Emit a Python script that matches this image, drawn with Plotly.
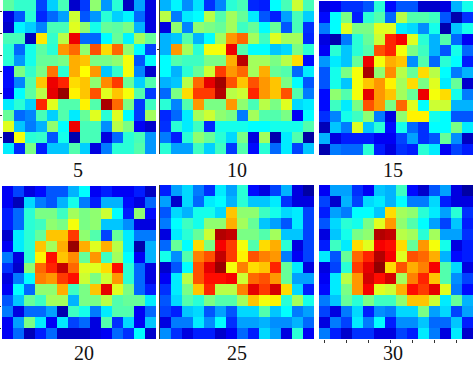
import plotly.graph_objects as go

labels = ["5", "10", "15", "20", "25", "30"]

p5 = [
 [47,43,43,18,33,45,6,17,52,27,42,5,28,8],
 [8,20,42,15,22,28,58,20,27,42,33,37,22,8],
 [6,37,33,25,45,45,60,52,40,48,47,50,30,8],
 [45,45,4,65,43,56,87,22,22,38,48,37,54,48],
 [42,22,40,47,42,72,76,52,78,66,76,52,38,18],
 [42,27,40,48,48,50,70,68,50,50,52,62,20,38],
 [12,50,43,50,75,42,70,63,72,32,43,62,25,6],
 [12,25,46,68,87,82,66,68,52,73,80,48,33,46],
 [10,38,47,56,88,97,64,68,78,60,68,62,46,17],
 [36,42,33,82,60,46,46,64,46,95,76,50,17,44],
 [48,22,25,45,33,46,36,48,60,42,60,38,17,54],
 [60,32,24,30,52,38,87,45,45,26,56,50,10,6],
 [3,62,42,43,20,40,3,45,45,8,22,42,45,27],
 [36,15,50,14,32,32,46,33,8,24,42,42,46,27],
]
p10 = [
 [30,37,26,35,16,25,42,45,15,14,38,45,58,45],
 [56,24,36,38,56,46,54,48,36,20,14,28,45,33],
 [8,52,25,52,50,48,54,44,48,38,48,20,45,16],
 [30,32,46,30,38,54,72,76,54,44,60,54,54,15],
 [30,72,54,42,62,62,87,46,38,38,32,34,50,42],
 [38,46,44,44,50,50,70,93,54,54,50,56,66,12],
 [38,30,42,48,58,80,72,76,54,70,48,46,22,36],
 [30,32,56,76,88,96,78,68,78,72,68,50,38,20],
 [22,50,66,80,80,94,56,58,82,72,68,78,46,24],
 [42,25,46,72,50,50,72,52,45,56,50,60,34,36],
 [15,22,36,54,58,52,50,24,54,46,46,50,10,38],
 [16,42,36,44,15,40,40,40,38,38,40,40,40,46],
 [24,14,42,52,48,42,34,50,8,54,3,36,46,2],
 [42,28,28,44,33,44,17,46,12,42,22,36,18,32],
]
p15 = [
 [8,10,16,16,20,42,12,20,20,6,6,8,30,40],
 [12,38,50,14,42,46,22,56,46,46,44,20,3,16],
 [24,38,60,50,50,60,60,36,34,26,40,3,32,40],
 [8,3,24,42,48,58,82,86,60,42,30,46,22,10],
 [10,42,32,42,46,78,82,62,50,44,30,20,40,22],
 [27,36,32,48,87,62,70,68,26,46,22,42,38,14],
 [20,40,50,62,95,52,73,56,48,66,56,38,24,30],
 [20,40,32,62,68,72,64,54,66,50,60,36,48,6],
 [12,52,46,62,88,72,68,54,48,87,62,66,40,24],
 [12,44,36,50,78,72,50,76,60,38,58,58,30,30],
 [16,25,40,44,52,24,8,52,64,64,40,38,20,20],
 [4,32,24,60,32,42,12,40,22,16,38,38,50,36],
 [30,8,14,14,14,10,10,18,28,16,20,48,26,5],
 [3,24,22,22,42,14,8,16,14,42,36,10,18,14],
]
p20 = [
 [10,18,8,12,20,20,30,38,10,14,10,10,14,5],
 [10,4,34,24,20,30,40,24,14,30,30,12,8,22],
 [14,22,42,50,50,44,54,50,52,58,38,14,52,12],
 [14,22,42,44,52,50,62,50,52,32,32,26,8,8],
 [6,36,42,48,68,68,80,52,46,18,48,36,24,24],
 [10,36,42,68,54,70,97,70,60,70,56,36,3,30],
 [24,8,42,64,84,68,73,48,72,44,54,38,10,30],
 [16,6,52,76,82,92,76,60,60,66,84,42,22,8],
 [8,24,38,74,72,80,84,58,50,58,72,42,22,8],
 [10,38,22,52,52,70,44,50,68,88,60,50,22,14],
 [20,32,48,44,54,54,30,50,50,56,46,48,48,36],
 [24,8,22,22,28,3,44,40,24,36,46,46,10,22],
 [10,28,50,36,10,36,18,22,8,46,16,34,10,32],
 [10,22,4,14,22,5,5,5,8,10,22,16,38,6],
]
p25 = [
 [14,28,34,24,16,36,28,42,12,8,18,30,8,2],
 [28,6,34,22,36,38,30,42,32,32,36,16,8,8],
 [20,34,30,40,40,34,68,52,52,44,40,34,36,18],
 [24,38,44,40,52,52,70,54,48,32,28,20,36,18],
 [8,36,42,48,58,94,92,50,50,46,54,32,32,18],
 [22,48,38,66,50,86,80,62,46,66,70,42,8,18],
 [40,26,46,74,78,92,80,64,78,74,72,24,10,18],
 [6,20,38,78,88,97,62,74,66,68,82,48,36,8],
 [10,36,56,78,84,84,86,58,76,78,72,48,28,28],
 [16,36,50,68,82,56,56,74,88,80,90,66,34,14],
 [20,34,46,42,50,46,46,54,68,62,64,42,54,40],
 [18,14,32,34,20,28,20,34,34,46,32,38,24,28],
 [8,24,24,36,26,38,16,28,28,30,26,26,30,22],
 [26,16,8,14,14,6,10,22,14,34,28,8,42,10],
]
p30 = [
 [10,28,28,16,10,32,30,44,12,6,20,28,8,2],
 [18,6,30,18,34,36,30,38,24,24,34,14,8,8],
 [14,28,24,38,38,32,66,54,52,42,36,28,42,16],
 [20,34,42,40,50,60,72,52,46,38,28,18,32,14],
 [8,32,40,50,52,94,92,56,54,42,54,28,28,16],
 [14,44,36,66,60,86,84,66,48,72,62,40,8,14],
 [36,20,48,76,82,94,86,60,78,76,70,30,12,14],
 [8,18,42,80,88,98,66,78,70,74,86,46,34,8],
 [10,36,56,72,90,84,90,54,74,82,68,46,26,18],
 [12,36,50,72,86,60,58,70,84,80,88,60,24,12],
 [24,32,48,42,50,44,44,52,68,68,58,36,48,30],
 [18,8,24,34,14,26,24,34,34,50,28,34,18,28],
 [8,24,18,36,24,38,14,26,26,32,22,22,32,14],
 [24,14,6,16,16,8,8,18,14,36,24,8,36,6],
]
panels = [p5, p10, p15, p20, p25, p30]

W, H = 474, 365
boxes = [(3,156,0,154),(160,314,0,154),(319,473,1,155),
         (2,156,186,339),(160,314,185,339),(319,473,185,339)]
label_x = [78,237,393,84,237,393]
label_y = [170,170,170,353,353,353]
left_ticks = {0:[0.5,2.5,4.5,6,8,10,12], 1:[4], 3:[10.5,12.5]}
left_line = {1,4}

jet = [[0,"#00008f"],[0.11,"#0000ff"],[0.38,"#00ffff"],[0.63,"#ffff00"],[0.85,"#ff0000"],[1,"#800000"]]

fig = go.Figure()
for i,(z,b) in enumerate(zip(panels,boxes)):
    n = i+1
    fig.add_trace(go.Heatmap(z=z, colorscale=jet, zmin=0, zmax=100, showscale=False,
                             xaxis=f"x{n}", yaxis=f"y{n}", hoverongaps=False))
    xa = dict(domain=[b[0]/W,b[1]/W], anchor=f"y{n}", showticklabels=False,
              ticks="", showgrid=False, zeroline=False, showline=False,
              range=[-0.5,13.5], fixedrange=True)
    if i == 5:
        xa.update(ticks="outside", ticklen=3, tickcolor="#333", tickwidth=1,
                  tickvals=[0,2,4,6,8,10,12])
    ya = dict(domain=[1-b[3]/H,1-b[2]/H], anchor=f"x{n}", showticklabels=False,
              ticks="", showgrid=False, zeroline=False,
              showline=i in left_line, linecolor="#333", linewidth=1,
              range=[13.5,-0.5], fixedrange=True)
    if i in left_ticks:
        ya.update(ticks="outside", ticklen=2, tickcolor="#333", tickwidth=1,
                  tickvals=left_ticks[i])
    fig.update_layout(**{f"xaxis{n}": xa, f"yaxis{n}": ya})
    fig.add_annotation(text=labels[i], xref="paper", yref="paper",
                       x=label_x[i]/W, y=1-label_y[i]/H, showarrow=False,
                       xanchor="center", yanchor="middle",
                       font=dict(family="Liberation Serif", size=20, color="#111"))

fig.update_layout(width=W, height=H, margin=dict(l=0,r=0,t=0,b=0),
                  paper_bgcolor="white", plot_bgcolor="white")
fig.write_html("out.html", config={"displayModeBar":False},
               post_script="document.body.style.margin='0';document.body.style.overflow='hidden';")
